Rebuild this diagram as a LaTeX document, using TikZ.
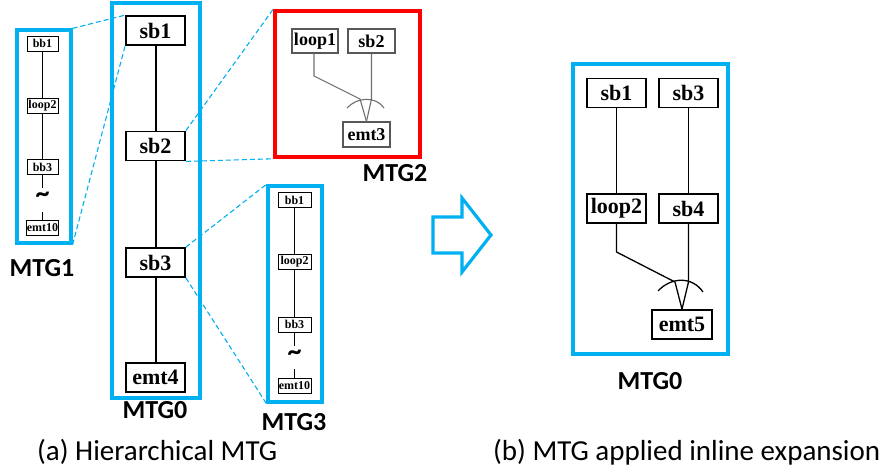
\documentclass[tikz,border=0pt]{standalone}
\usepackage{fontspec}
\setmainfont{Liberation Serif}
\newfontfamily\calibri{Carlito}
\definecolor{mtgblue}{RGB}{0,176,240}
\definecolor{mtgred}{RGB}{255,0,0}
\definecolor{softgray}{RGB}{110,110,110}

\begin{document}
\begin{tikzpicture}[x=1pt,y=-1pt,
  bignode/.style={draw, line width=1.8pt, inner sep=0pt, minimum width=59pt, minimum height=29pt,
    font=\fontsize{22}{22}\selectfont\bfseries},
  tinynode/.style={draw, line width=0.9pt, inner sep=0pt, minimum width=31pt, minimum height=15pt,
    font=\fontsize{12}{12}\selectfont\bfseries},
  midnode/.style={draw=softgray!80!black, line width=1.2pt, inner sep=0pt, minimum width=46pt, minimum height=24pt,
    font=\fontsize{18}{18}\selectfont\bfseries},
  bluebox/.style={draw=mtgblue, line width=3.2pt, inner sep=0pt},
  redbox/.style={draw=mtgred, line width=3.6pt, inner sep=0pt},
  zoomline/.style={draw=mtgblue, line width=1.1pt, dash pattern=on 5pt off 3pt},
  chain/.style={line width=1.3pt},
  boldchain/.style={line width=2pt},
  graychain/.style={draw=softgray, line width=1.1pt},
  mtglabel/.style={font=\calibri\bfseries\fontsize{26}{26}\selectfont},
  caption/.style={font=\calibri\fontsize{29}{29}\selectfont, anchor=west, inner sep=0pt},
  wave/.style={font=\calibri\bfseries\fontsize{28}{28}\selectfont, inner sep=0pt}]

\useasboundingbox (0,0) rectangle (883,473);

% ---------- frames ----------
\node[bluebox, minimum width=54pt, minimum height=213pt] (m1box) at (44,136.5) {};
\node[bluebox, minimum width=88pt, minimum height=395pt] (l0box) at (156,200.5) {};
\node[redbox, minimum width=145pt, minimum height=146pt] (m2box) at (347.5,84) {};
\node[bluebox, minimum width=54pt, minimum height=216pt] (m3box) at (295,294) {};
\node[bluebox, minimum width=155pt, minimum height=290pt] (r0box) at (650.5,209) {};

% ---------- MTG0 (hierarchical) ----------
\node[bignode] (l0sb1) at (155.5,30.5) {sb1};
\node[bignode] (l0sb2) at (155.5,146) {sb2};
\node[bignode] (l0sb3) at (155.5,262.5) {sb3};
\node[bignode] (l0emt4) at (155.5,377.5) {emt4};
\draw[boldchain] (l0sb1) -- (l0sb2) -- (l0sb3) -- (l0emt4);

% ---------- zoom connectors ----------
\draw[zoomline] (m1box.north east) -- (l0sb1.north west);
\draw[zoomline] (m1box.south east) -- (l0sb1.south west);
\draw[zoomline] (l0sb2.north east) -- (m2box.north west);
\draw[zoomline] (l0sb2.south east) -- (m2box.south west);
\draw[zoomline] (l0sb3.north east) -- (m3box.north west);
\draw[zoomline] (l0sb3.south east) -- (m3box.south west);

% ---------- MTG1 ----------
\node[tinynode] (m1bb1) at (42.5,43.5) {bb1};
\node[tinynode] (m1loop2) at (42.5,106) {loop2};
\node[tinynode] (m1bb3) at (42.5,167) {bb3};
\node[wave] (m1wave) at (42.5,197) {\char"7E};
\node[tinynode] (m1emt10) at (42.5,228) {emt10};
\draw[chain] (m1bb1) -- (m1loop2) -- (m1bb3);
\coordinate (m1gapa) at (42.5,188);
\coordinate (m1gapb) at (42.5,212);
\draw[chain] (m1bb3.south) -- (m1gapa);
\draw[chain] (m1gapb) -- (m1emt10.north);

% ---------- MTG3 ----------
\node[tinynode, minimum width=33pt] (m3bb1) at (294.5,200) {bb1};
\node[tinynode, minimum width=33pt] (m3loop2) at (294.5,261.5) {loop2};
\node[tinynode, minimum width=33pt] (m3bb3) at (294.5,324.5) {bb3};
\node[wave] (m3wave) at (294.5,355) {\char"7E};
\node[tinynode, minimum width=33pt] (m3emt10) at (294.5,385.5) {emt10};
\draw[chain] (m3bb1) -- (m3loop2) -- (m3bb3);
\coordinate (m3gapa) at (294.5,346);
\coordinate (m3gapb) at (294.5,369);
\draw[chain] (m3bb3.south) -- (m3gapa);
\draw[chain] (m3gapb) -- (m3emt10.north);

% ---------- MTG2 ----------
\node[midnode] (m2loop1) at (315,41) {loop1};
\node[midnode, minimum width=47pt] (m2sb2) at (371.5,41) {sb2};
\node[midnode, minimum width=47pt, minimum height=25pt] (m2emt3) at (366.5,134.5) {emt3};
\coordinate (m2bend) at (314,76);
\coordinate (m2ja) at (360,99);
\coordinate (m2jb) at (371.5,99);
\draw[graychain] (m2loop1.south -| m2bend) -- (m2bend) -- (m2ja) -- (m2emt3.north);
\draw[graychain] (m2sb2.south) -- (m2jb) -- (m2emt3.north);
\draw[graychain] (347,108) .. controls (357,97) and (376,96) .. (384,108);

% ---------- MTG0 (after inline expansion) ----------
\node[bignode] (r0sb1) at (616.5,93) {sb1};
\node[bignode] (r0sb3) at (688.5,93) {sb3};
\node[bignode] (r0loop2) at (616.5,208.5) {loop2};
\node[bignode] (r0sb4) at (688.5,208.5) {sb4};
\node[bignode, minimum width=60pt] (r0emt5) at (682,324.5) {emt5};
\draw[chain] (r0sb1) -- (r0loop2);
\draw[chain] (r0sb3) -- (r0sb4);
\coordinate (r0bend) at (616.5,252);
\coordinate (r0ja) at (675,282);
\coordinate (r0jb) at (688.5,282);
\draw[chain] (r0loop2.south) -- (r0bend) -- (r0ja) -- (r0emt5.north);
\draw[chain] (r0sb4.south) -- (r0jb) -- (r0emt5.north);
\draw[chain] (658,291) .. controls (671,277) and (692,276) .. (703,292);

% ---------- block arrow ----------
\draw[mtgblue, line width=3.2pt, line join=miter]
  (433,217) -- (462,217) -- (462,198) -- (491,235) -- (462,272) -- (462,253) -- (433,253) -- cycle;

% ---------- labels ----------
\node[mtglabel] (lblm1) at (42,268) {MTG1};
\node[mtglabel] (lbll0) at (155,410) {MTG0};
\node[mtglabel] (lblm3) at (294,422) {MTG3};
\node[mtglabel] (lblm2) at (395,173) {MTG2};
\node[mtglabel] (lblr0) at (650,381) {MTG0};
\node[caption] (capa) at (37,452) {(a) Hierarchical MTG};
\node[caption] (capb) at (493,452) {(b) MTG applied inline expansion};
\end{tikzpicture}
\end{document}
